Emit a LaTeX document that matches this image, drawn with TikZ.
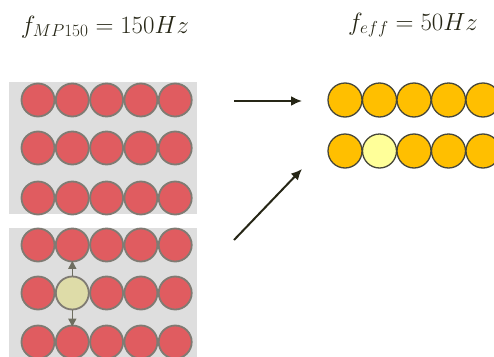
\documentclass[tikz,border=0pt]{standalone}
\usepackage{amsmath}
\usetikzlibrary{arrows.meta}
\definecolor{cellred}{HTML}{E05C60}
\definecolor{cellrim}{HTML}{7F7B73}
\definecolor{panegray}{HTML}{DEDEDE}
\definecolor{paleolive}{HTML}{DEDCA8}
\definecolor{amber}{HTML}{FFBF00}
\definecolor{paleyellow}{HTML}{FFFF99}
\definecolor{inkdark}{HTML}{262616}
\definecolor{hintgray}{HTML}{6E6E60}

\begin{document}
\begin{tikzpicture}[x=1pt,y=-1pt,
		redcell/.style={circle,draw=cellrim,line width=1.8pt,fill=cellred,minimum size=33pt,inner sep=0pt},
		palecell/.style={redcell,fill=paleolive},
		ambercell/.style={circle,draw=inkdark!85,line width=1.3pt,fill=amber,minimum size=34pt,inner sep=0pt},
		lightcell/.style={ambercell,fill=paleyellow},
		hint/.style={-{Triangle[length=8pt,width=8pt]},draw=hintgray,line width=1.6pt},
		mainarrow/.style={-{Latex[length=11pt,width=10pt]},draw=inkdark,line width=2pt},
		title/.style={text=inkdark,font=\fontsize{24}{28}\selectfont}]
		\useasboundingbox (0,0) rectangle (494,356);
		\clip (0,0) rectangle (494,356);
		% 周波数の表示
		\node[title] (fmp) at (105,27) {$f_{MP150} = 150Hz$};
		\node[title] (feff) at (413,25) {$f_{eff} = 50Hz$};
		% 灰色の背景
		\fill[panegray] (9,82) rectangle (197,214);
		\fill[panegray] (9,228) rectangle (197,360);
		% 上の配列
		\foreach \row/\y in {1/100,2/148,3/198}
			\foreach \col in {1,...,5}
				\node[redcell] (a\row\col) at ({38+34.3*(\col-1)},\y) {};
		% 下の配列
		\foreach \row/\y in {1/245,3/342}
			\foreach \col in {1,...,5}
				\node[redcell] (b\row\col) at ({38+34.3*(\col-1)},\y) {};
		\foreach \col/\sty in {1/redcell,2/palecell,3/redcell,4/redcell,5/redcell}
			\node[\sty] (b2\col) at ({38+34.3*(\col-1)},293) {};
		\draw[hint] (b22.north) -- ([yshift=1.5pt]b12.south);
		\draw[hint] (b22.south) -- ([yshift=-2pt]b32.north);
		% 右の配列
		\foreach \col in {1,...,5}
			\node[ambercell] (c1\col) at ({345+34.5*(\col-1)},100) {};
		\foreach \col/\sty in {1/ambercell,2/lightcell,3/ambercell,4/ambercell,5/ambercell}
			\node[\sty] (c2\col) at ({345+34.5*(\col-1)},151) {};
		% 矢印
		\coordinate (topstart) at (234,101);
		\coordinate (topend) at (302,101);
		\coordinate (lowstart) at (234,240);
		\coordinate (lowend) at (302,169);
		\draw[mainarrow] (topstart) -- (topend);
		\draw[mainarrow] (lowstart) -- (lowend);
\end{tikzpicture}
\end{document}
